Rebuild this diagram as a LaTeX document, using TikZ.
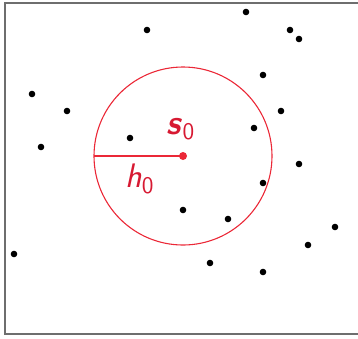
\documentclass[tikz,border=0pt]{standalone}
\usepackage{fontspec}
\begin{document}
\definecolor{cred}{RGB}{235,40,55}
\definecolor{tred}{RGB}{215,25,50}
\definecolor{frame}{RGB}{110,110,110}
\begin{tikzpicture}[x=0.5pt,y=-0.5pt,
  dot/.style={circle,fill=black,inner sep=0pt,minimum size=3.3pt},
  cdot/.style={circle,fill=cred,inner sep=0pt,minimum size=4pt},
  lbl/.style={text=tred,inner sep=0pt,font=\fontsize{17}{20}\selectfont\sffamily}]
\useasboundingbox (0,0) rectangle (358,338);
\draw[frame,line width=0.75pt] (358,3) -- (5,3) -- (5,334) -- (358,334);
% data points
\node[dot] (p1) at (147,30) {};
\node[dot] (p2) at (32,94) {};
\node[dot] (p3) at (67,111) {};
\node[dot] (p4) at (41,147) {};
\node[dot] (p5) at (130,138) {};
\node[dot] (p6) at (246,12) {};
\node[dot] (p7) at (290,30) {};
\node[dot] (p8) at (299,39) {};
\node[dot] (p9) at (263,75) {};
\node[dot] (p10) at (281,111) {};
\node[dot] (p11) at (254,128) {};
\node[dot] (p12) at (299,164) {};
\node[dot] (p13) at (14,254) {};
\node[dot] (p14) at (263,183) {};
\node[dot] (p15) at (183,210) {};
\node[dot] (p16) at (228,219) {};
\node[dot] (p17) at (335,227) {};
\node[dot] (p18) at (308,245) {};
\node[dot] (p19) at (210,263) {};
\node[dot] (p20) at (263,272) {};
% window
\coordinate (cc) at (183,156);
\coordinate (edge) at (94,156);
\draw[cred,line width=0.55pt] (cc) circle (89);
\draw[cred,line width=0.55pt] (edge) -- (cc);
\node[cdot] (c) at (cc) {};
\node[lbl] (s) at (181,129) {\textbf{\textit{s}}\textsubscript{0}};
\node[lbl] (h) at (140,179) {\textit{h}\textsubscript{0}};
\end{tikzpicture}
\end{document}
